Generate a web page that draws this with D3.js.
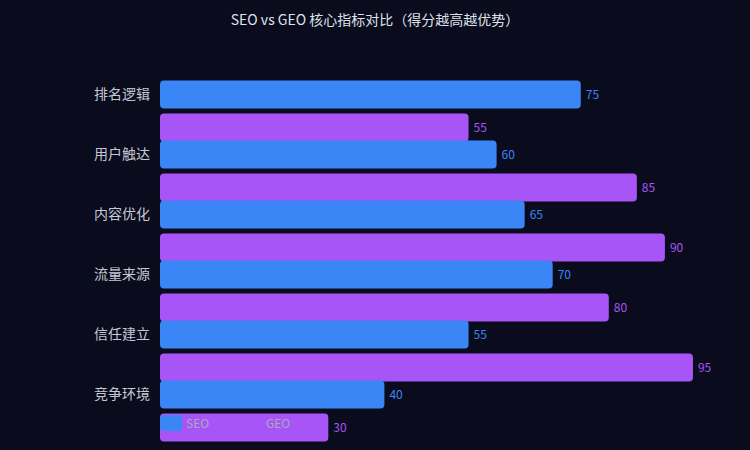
<!DOCTYPE html>
<html lang="zh">
<head>
<meta charset="utf-8">
<title>SEO vs GEO</title>
<script src="https://cdn.jsdelivr.net/npm/d3@7/dist/d3.min.js"></script>
<style>
  html, body { margin: 0; padding: 0; background: #0a0c1d; }
  svg { display: block; font-family: "Noto Sans CJK SC", "Noto Sans", sans-serif; }
</style>
</head>
<body>
<div id="chart"></div>
<script>
// data
var categories = ["排名逻辑", "用户触达", "内容优化", "流量来源", "信任建立", "竞争环境"];
var seoValues = [75, 60, 65, 70, 55, 40];
var geoValues = [55, 85, 90, 80, 95, 30];
var seriesNames = ["SEO", "GEO"];
var seriesColors = ["#3b86f7", "#a855f7"];

var width = 750, height = 450;

var svg = d3.select("#chart").append("svg")
    .attr("width", width)
    .attr("height", height);

svg.append("rect")
    .attr("width", width).attr("height", height)
    .attr("fill", "#0a0c1d");

svg.append("text")
    .attr("x", 375).attr("y", 25)
    .attr("text-anchor", "middle")
    .attr("fill", "#dfe2ea")
    .style("font-size", "14px")
    .text("SEO vs GEO 核心指标对比（得分越高越优势）");

var x = d3.scaleLinear().domain([0, 100]).range([160, 721]);
var y = d3.scaleBand().domain(categories).range([64.5, 424.5]).padding(0);

var barH = 28;
var rows = categories.map(function (c, i) {
    return { cat: c, seo: seoValues[i], geo: geoValues[i] };
});

// y labels
var yAxis = d3.axisLeft(y).tickSize(0).tickPadding(10);
var gy = svg.append("g").attr("transform", "translate(160,0.5)").call(yAxis);
gy.select(".domain").remove();
gy.selectAll("text")
    .attr("fill", "#c5c9d6")
    .style("font-size", "14px")
    .style("font-family", "\"Noto Sans CJK SC\", sans-serif");

// GEO bars (below each category)
svg.selectAll("rect.geo")
    .data(rows).enter().append("rect")
    .attr("class", "geo")
    .attr("x", x(0))
    .attr("y", d => y(d.cat) + y.bandwidth() / 2 + 19)
    .attr("width", d => x(d.geo) - x(0))
    .attr("height", barH)
    .attr("rx", 4)
    .attr("fill", seriesColors[1]);

// SEO bars (centred on category)
svg.selectAll("rect.seo")
    .data(rows).enter().append("rect")
    .attr("class", "seo")
    .attr("x", x(0))
    .attr("y", d => y(d.cat) + y.bandwidth() / 2 - barH / 2)
    .attr("width", d => x(d.seo) - x(0))
    .attr("height", barH)
    .attr("rx", 4)
    .attr("fill", seriesColors[0]);

// value labels
svg.selectAll("text.seoLabel")
    .data(rows).enter().append("text")
    .attr("class", "seoLabel")
    .attr("x", d => x(d.seo) + 5)
    .attr("y", d => y(d.cat) + y.bandwidth() / 2 + 0.5)
    .attr("dy", "0.35em")
    .attr("fill", seriesColors[0])
    .style("font-size", "12px")
    .text(d => d.seo);

svg.selectAll("text.geoLabel")
    .data(rows).enter().append("text")
    .attr("class", "geoLabel")
    .attr("x", d => x(d.geo) + 5)
    .attr("y", d => y(d.cat) + y.bandwidth() / 2 + 19 + barH / 2 + 0.5)
    .attr("dy", "0.35em")
    .attr("fill", seriesColors[1])
    .style("font-size", "12px")
    .text(d => d.geo);

// legend
var legend = svg.selectAll("g.legend")
    .data(seriesNames).enter().append("g")
    .attr("class", "legend")
    .attr("transform", (d, i) => "translate(" + (160 + i * 80) + ",415)");

legend.append("rect")
    .attr("width", 22).attr("height", 16)
    .attr("rx", 4)
    .attr("fill", (d, i) => seriesColors[i]);

legend.append("text")
    .attr("x", 26).attr("y", 8.5)
    .attr("dy", "0.35em")
    .attr("fill", "#a6abb9")
    .style("font-size", "12px")
    .text(d => d);
</script>
</body>
</html>
